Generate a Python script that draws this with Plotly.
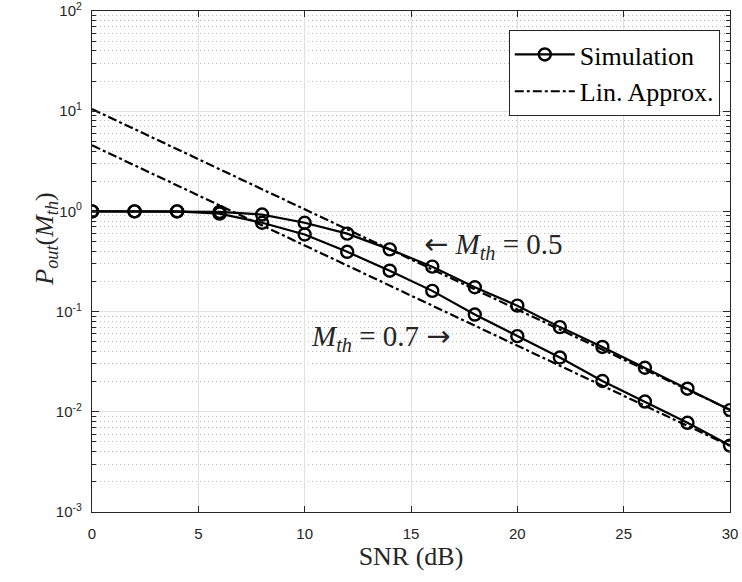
import plotly.graph_objects as go

# SNR grid (dB) for the simulated outage probability
snr_db = [0, 2, 4, 6, 8, 10, 12, 14, 16, 18, 20, 22, 24, 26, 28, 30]

# Simulated outage probability for the two thresholds
pout_sim_m05 = [1.0, 1.0, 1.0, 0.99, 0.93, 0.77, 0.60, 0.418, 0.281, 0.175,
                0.1146, 0.070, 0.0444, 0.0275, 0.0170, 0.0104]
pout_sim_m07 = [1.0, 1.0, 1.0, 0.95, 0.77, 0.588, 0.395, 0.256, 0.161, 0.0934,
                0.0569, 0.0348, 0.0203, 0.01265, 0.00776, 0.0046]

# High-SNR linear approximations (straight lines on the log scale)
approx_snr_db = [0, 30]
approx_m05 = [10.5, 0.0105]
approx_m07 = [4.57, 0.00457]

y_tick_vals = [1e-3, 1e-2, 1e-1, 1e0, 1e1, 1e2]
y_tick_text = ["10<sup>-3</sup>", "10<sup>-2</sup>", "10<sup>-1</sup>",
               "10<sup>0</sup>", "10<sup>1</sup>", "10<sup>2</sup>"]
y_minor_vals = [k * 10.0 ** e for e in range(-3, 2) for k in range(2, 10)]

INK = "#262626"
SERIF = "Liberation Serif"
SANS = "Liberation Sans"

fig = go.Figure()

sim_style = dict(mode="lines+markers",
                 line=dict(color="black", width=2.2),
                 marker=dict(symbol="circle-open", size=12,
                             color="black", line=dict(width=2.4)))
approx_style = dict(mode="lines",
                    line=dict(color="black", width=2.2, dash="dashdot"))

fig.add_trace(go.Scatter(x=snr_db, y=pout_sim_m05, name="Simulation",
                         showlegend=True, legendrank=1, **sim_style))
fig.add_trace(go.Scatter(x=snr_db, y=pout_sim_m07, name="Simulation",
                         showlegend=False, **sim_style))
fig.add_trace(go.Scatter(x=approx_snr_db, y=approx_m05, name="Lin. Approx.",
                         showlegend=True, legendrank=2, **approx_style))
fig.add_trace(go.Scatter(x=approx_snr_db, y=approx_m07, name="Lin. Approx.",
                         showlegend=False, **approx_style))

axis_common = dict(
    showline=True, linecolor=INK, linewidth=1.2, mirror="ticks",
    ticks="inside", tickcolor=INK, tickwidth=1.2,
    showgrid=True, gridcolor="#e0e0e0", gridwidth=1,
    zeroline=False, ticklabeloverflow="allow", automargin=False,
    tickfont=dict(family=SANS, size=15, color=INK),
)

fig.update_xaxes(
    range=[0, 30], tickvals=[0, 5, 10, 15, 20, 25, 30], ticklen=6,
    title=dict(text="SNR (dB)", font=dict(family=SERIF, size=26, color=INK),
               standoff=0),
    ticklabelstandoff=8,
    **axis_common,
)

fig.update_yaxes(
    type="log", range=[-3.0002, 2.0002], tickvals=y_tick_vals,
    ticktext=y_tick_text, ticklen=7, ticklabelstandoff=6,
    minor=dict(tickvals=y_minor_vals, ticks="inside", ticklen=4,
               tickcolor=INK, showgrid=True, gridcolor="#bdbdbd",
               griddash="1px,3px", gridwidth=1),
    **axis_common,
)

annot_font = dict(family=SERIF, size=29, color=INK)
arrow_span = "<span style=\"font-family:'DejaVu Sans'\">{}</span>"
fig.add_annotation(x=18.9, y=-0.337, xref="x", yref="y", showarrow=False,
                   text=arrow_span.format("\u2190")
                   + " <i>M</i><sub><i>th</i></sub> = 0.5",
                   font=annot_font)
fig.add_annotation(x=13.6, y=-1.257, xref="x", yref="y", showarrow=False,
                   text="<i>M</i><sub><i>th</i></sub> = 0.7 "
                   + arrow_span.format("\u2192"),
                   font=annot_font)
fig.add_annotation(x=-0.100, y=0.544, xref="paper", yref="paper",
                   showarrow=False, textangle=-90,
                   text="<i>P</i><sub><i>out</i></sub>(<i>M</i><sub><i>th</i></sub>)",
                   font=dict(family=SERIF, size=26, color=INK))

fig.update_layout(
    width=742, height=582,
    margin=dict(l=92, r=12, t=11, b=70, autoexpand=False),
    paper_bgcolor="white", plot_bgcolor="white",
    legend=dict(x=0.984, xanchor="right", y=0.962, yanchor="top",
                bgcolor="white", bordercolor=INK, borderwidth=1,
                font=dict(family=SERIF, size=26, color="black"),
                itemwidth=60, tracegroupgap=0),
)

fig.write_html("out.html")
